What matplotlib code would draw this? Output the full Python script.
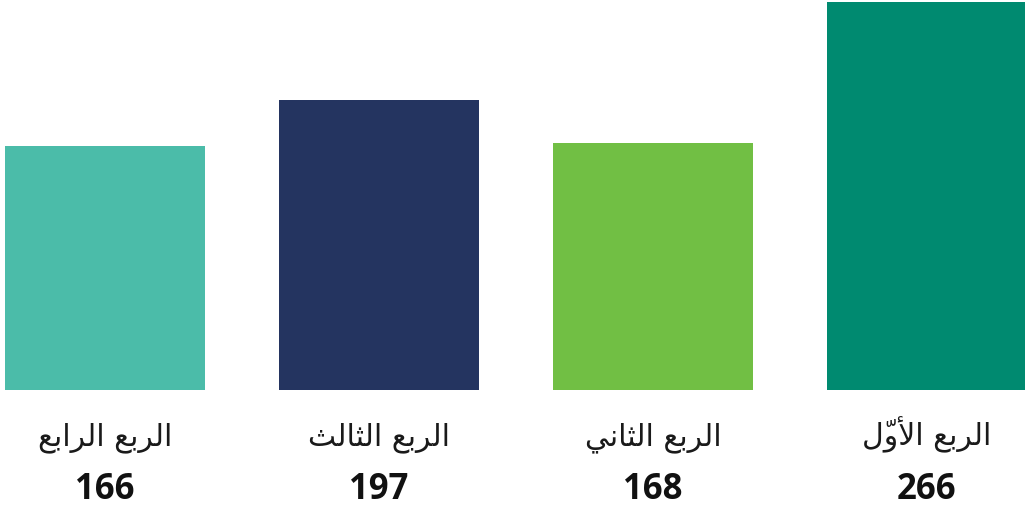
import matplotlib
matplotlib.use("Agg")
import matplotlib.pyplot as plt
from matplotlib.transforms import blended_transform_factory

# ---- data (right-to-left order in reference: first quarter at right) ----
categories = ["الربع الرابع", "الربع الثالث", "الربع الثاني", "الربع الأوّل"]
values = [166, 197, 168, 266]
colors = ["#4BBCA9", "#243460", "#71BF44", "#008A70"]

# ---- minimal Arabic shaping (matplotlib has no complex text layout) ----
FORMS = {  # iso, fin, ini, med  (None = letter does not join to the following one)
    "\u0627": ("\uFE8D", "\uFE8E", None, None),
    "\u0623": ("\uFE83", "\uFE84", None, None),
    "\u0631": ("\uFEAD", "\uFEAE", None, None),
    "\u0648": ("\uFEED", "\uFEEE", None, None),
    "\u0644": ("\uFEDD", "\uFEDE", "\uFEDF", "\uFEE0"),
    "\u0628": ("\uFE8F", "\uFE90", "\uFE91", "\uFE92"),
    "\u0639": ("\uFEC9", "\uFECA", "\uFECB", "\uFECC"),
    "\u062B": ("\uFE99", "\uFE9A", "\uFE9B", "\uFE9C"),
    "\u0646": ("\uFEE5", "\uFEE6", "\uFEE7", "\uFEE8"),
    "\u064A": ("\uFEF1", "\uFEF2", "\uFEF3", "\uFEF4"),
}
LAM_ALEF = {"\u0627": ("\uFEFB", "\uFEFC"), "\u0623": ("\uFEF7", "\uFEF8")}
MARKS = {"\u0651"}


def shape_word(word):
    units = []
    for ch in word:
        if ch in MARKS and units:
            units[-1][1].append(ch)
        else:
            units.append([ch, []])
    out = []
    i = 0
    prev_joins = False
    while i < len(units):
        ch, marks = units[i]
        nxt = units[i + 1][0] if i + 1 < len(units) else None
        if ch == "\u0644" and nxt in LAM_ALEF:
            lig = LAM_ALEF[nxt][1 if prev_joins else 0]
            out.append([lig, marks + units[i + 1][1]])
            prev_joins = False
            i += 2
            continue
        f = FORMS.get(ch)
        if f is None:
            out.append([ch, marks])
            prev_joins = False
            i += 1
            continue
        next_joins = f[2] is not None and nxt is not None and nxt in FORMS
        if prev_joins and next_joins:
            g = f[3]
        elif prev_joins:
            g = f[1]
        elif next_joins:
            g = f[2]
        else:
            g = f[0]
        out.append([g, marks])
        prev_joins = next_joins
        i += 1
    # visual (LTR) order; zero-width marks placed before their base so they sit on it
    vis = ""
    for g, marks in reversed(out):
        vis += "".join(marks) + g
    return vis


def shape(text):
    return " ".join(shape_word(w) for w in reversed(text.split(" ")))


W, H = 1025, 514
fig = plt.figure(figsize=(W / 100, H / 100), dpi=100)
ax = fig.add_axes([0, (H - 390) / H, 1, (390 - 2) / H])

x = list(range(len(values)))
ax.bar(x, values, width=200 / 274, color=colors)
ax.set_xlim(-105 / 274, (W - 105) / 274)
ax.set_ylim(0, 264)
ax.axis("off")

tr = blended_transform_factory(ax.transData, fig.transFigure)
for xi, cat, v in zip(x, categories, values):
    ax.text(xi, (H - 445) / H, shape(cat), transform=tr, ha="center", va="baseline",
            fontsize=21.5, family="DejaVu Sans", color="#1a1a1a")
    ax.text(xi, (H - 499) / H, f"{v}", transform=tr, ha="center", va="baseline",
            fontsize=25, family="Open Sans", fontweight="bold", color="#111111")

fig.savefig("out.png", dpi=100)
